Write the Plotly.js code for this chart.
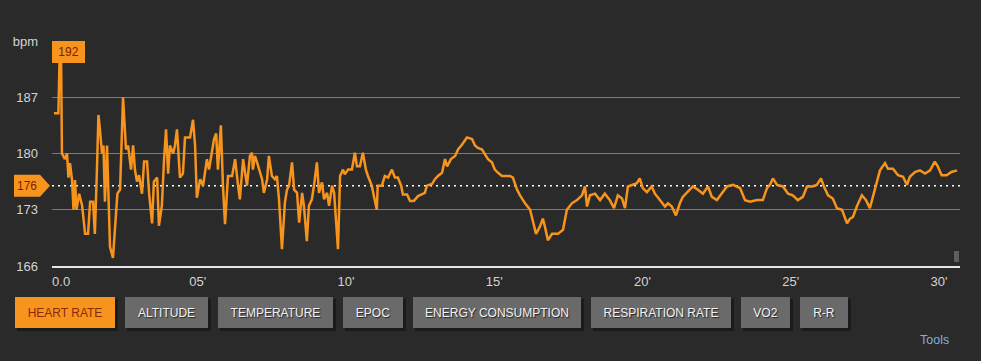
<!DOCTYPE html>
<html><head><meta charset="utf-8">
<script src="https://cdn.plot.ly/plotly-3.0.1.min.js"></script>
<style>html,body{margin:0;padding:0;background:#2a2a2a;overflow:hidden}#chart{width:981px;height:361px}</style>
</head><body><div id="chart"></div>
<script>
// ---- data ----
const minutes = [
 0.15,0.30,0.34,0.39,0.42,0.52,0.59,0.64,0.69,0.76,
 0.81,0.86,0.91,1.00,1.10,1.20,1.30,1.37,1.47,1.53,
 1.60,1.65,1.70,1.77,1.82,1.87,1.94,1.99,2.04,2.14,
 2.24,2.29,2.38,2.48,2.58,2.65,2.75,2.82,2.88,2.95,
 3.02,3.12,3.19,3.29,3.36,3.46,3.52,3.63,3.69,3.79,
 3.86,3.93,4.00,4.06,4.17,4.23,4.30,4.35,4.40,4.50,
 4.57,4.67,4.74,4.84,4.91,4.97,5.08,5.18,5.31,5.38,
 5.48,5.55,5.62,5.68,5.78,5.85,5.92,6.02,6.16,6.26,
 6.36,6.42,6.53,6.59,6.66,6.76,6.83,6.86,6.93,7.00,
 7.07,7.17,7.23,7.34,7.40,7.50,7.60,7.67,7.74,7.84,
 7.94,8.01,8.08,8.18,8.25,8.35,8.42,8.52,8.58,8.68,
 8.75,8.85,8.92,9.02,9.09,9.19,9.26,9.36,9.43,9.53,
 9.60,9.70,9.73,9.80,9.90,9.96,10.07,10.20,10.30,10.37,
 10.47,10.57,10.67,10.74,10.87,10.94,11.04,11.07,11.21,11.31,
 11.42,11.55,11.65,11.75,11.86,11.92,12.06,12.16,12.29,12.43,
 12.56,12.66,12.73,12.90,13.00,13.10,13.24,13.34,13.41,13.54,
 13.68,13.78,13.91,14.01,14.08,14.25,14.35,14.45,14.59,14.69,
 14.79,14.92,15.02,15.13,15.26,15.36,15.53,15.63,15.77,15.87,
 16.04,16.21,16.31,16.41,16.54,16.64,16.71,16.81,16.95,17.15,
 17.32,17.45,17.62,17.79,17.96,18.06,18.13,18.23,18.40,18.57,
 18.73,18.90,19.04,19.17,19.31,19.41,19.51,19.68,19.81,19.91,
 20.01,20.15,20.31,20.42,20.59,20.76,20.86,20.99,21.13,21.26,
 21.36,21.53,21.70,21.87,22.04,22.21,22.34,22.51,22.68,22.85,
 23.05,23.29,23.46,23.63,23.86,24.06,24.20,24.30,24.40,24.54,
 24.74,24.91,25.07,25.24,25.41,25.55,25.72,25.88,26.02,26.12,
 26.26,26.42,26.56,26.73,26.90,27.00,27.10,27.23,27.40,27.54,
 27.67,27.77,27.91,28.01,28.18,28.28,28.45,28.62,28.79,28.92,
 29.02,29.19,29.36,29.53,29.70,29.86,29.96,30.09,30.26,30.42,
 30.61];
const bpm = [
 185,185,192,192,180,179.3,180,177,178.8,176.7,
 173,176.7,173,175,173.5,170,170,174,174,170,
 178,184.8,183,180,181,174,181,175,168.4,167,
 173,175,175.5,187,180.5,181,178,181,178,176.5,
 177.3,175,179,179,175,171.3,176.5,177,171,173.5,
 179,183,177.5,181,180,181,183,179,177,177.5,
 182,182,182,184.2,181,174.5,176.8,176,179.3,178,
 180,181.8,182.5,178,183.5,176,171.2,177.2,177.2,179.3,
 176,174.3,179.3,178,176,179.7,180.1,178,179.7,178.9,
 178,176.8,175.1,176.8,179.7,177.2,176.8,177.2,174.3,168.1,
 173.9,175.5,176,178.9,175.5,175.1,171.4,175.1,173.5,169.1,
 173.5,174.3,176,178.9,175.1,176.4,174.3,175.1,173.5,176,
 175.1,168.9,168.1,177.2,178,177.4,178,178,180.1,178.4,
 178.4,180.1,178,177.2,176,174.7,173,176,176,177.2,
 177,178,177,177,176,174.9,174.9,174.1,174.1,174.7,
 174.9,175.1,176,176.2,176.8,177.2,177.6,179.3,178.4,179.3,
 179.7,180.5,181.1,181.6,182,181.8,181,180.7,180.5,179.9,
 179.3,178.9,178,177.6,177.2,177.2,177.2,177,175.5,174.8,
 173.8,173,171.3,170,170.9,171.9,170.9,169.2,170,170,
 170.5,173,173.8,174.2,174.8,175.9,173.4,174.8,175,174.2,
 175,174.2,173.2,174.8,174.4,173.2,175.9,176.1,176.3,176.9,
 175.7,175.2,175.9,175,174.2,173.4,173.8,173.4,172.3,173.8,
 174.6,175.2,175.9,175.5,175,175.9,174.6,174.2,175,175.9,
 176.1,175.7,174.2,174,174.2,174.2,175.7,176.1,176.9,176.1,
 175.9,175,174.8,174.2,174.6,175.9,175.9,176.1,176.9,175.9,
 174.8,174.4,173.2,173,171.3,171.9,172.1,173.4,174.8,174.2,
 173.2,174.6,176.7,177.9,178.8,178.1,178.1,177.3,177.1,176.1,
 177.1,177.7,177.9,177.5,177.9,179,178.4,177.3,177.3,177.7,
 177.9];
const avgBpm = 176;
const maxBpm = 192;
const yTickVals = [166,173,180,187,194];
const yTickText = ['166','173','180','187','bpm'];
const xTickVals = [0.39,5,10,15,20,25,30];
const xTickText = ['0.0',"05'","10'","15'","20'","25'","30'"];
const tabLabels = ['HEART RATE','ALTITUDE','TEMPERATURE','EPOC','ENERGY CONSUMPTION','RESPIRATION RATE','VO2','R-R'];
const toolsLabel = 'Tools';

// ---- layout geometry (pixels) ----
const W = 981, H = 361;
const plotL = 52, plotR = 960, plotT = 41, plotB = 266;
const pw = plotR - plotL, ph = plotB - plotT;
const tabGeom = [[15,100],[125,83],[218,115],[343,60],[413,168],[591,140],[741,49],[800,48]];
const tabTop = 297, tabH = 31;
const ORANGE = '#f7941d';
const FONT = 'Liberation Sans, Arial, sans-serif';

const px2x = p => (p - plotL) / pw;
const px2y = p => (plotB - p) / ph;

const maxIdx = bpm.indexOf(Math.max(...bpm));

const annotations = [];
// max label
annotations.push({
  x: minutes[maxIdx], y: bpm[maxIdx], xref: 'x', yref: 'y',
  text: String(maxBpm), showarrow: false, xshift: 9, yshift: 5,
  bgcolor: ORANGE, width: 33, height: 22, borderpad: 0, borderwidth: 0,
  font: {family: FONT, size: 12, color: '#7a2205'}
});
// average label text
annotations.push({
  x: 0, y: avgBpm, xref: 'paper', yref: 'y', xanchor: 'center',
  xshift: -25, text: String(avgBpm), showarrow: false,
  font: {family: FONT, size: 12, color: '#7a2205'}
});
// tabs
tabLabels.forEach((lab, i) => {
  const [left, w] = tabGeom[i];
  const active = i === 0;
  annotations.push({
    xref: 'paper', yref: 'paper', x: px2x(left), y: px2y(tabTop),
    xanchor: 'left', yanchor: 'top', width: w, height: tabH,
    borderpad: 0, borderwidth: 0, showarrow: false, valign: 'middle', align: 'center',
    text: lab, bgcolor: active ? ORANGE : '#6a6a6a',
    font: active ? {family: FONT, size: 12, color: '#8a2a08'}
                 : {family: FONT, size: 12, color: '#f2f2f2', shadow: '1px 1px 1px #222'}
  });
});
annotations.push({
  xref: 'paper', yref: 'paper', x: px2x(951), y: px2y(339.5),
  xanchor: 'right', yanchor: 'middle', showarrow: false, text: toolsLabel,
  font: {family: FONT, size: 12.5, color: '#7fb0e0'}
});

const shapes = [];
// tab shadows
tabGeom.forEach(([left, w]) => {
  shapes.push({type: 'rect', xref: 'paper', yref: 'paper', layer: 'below',
    x0: px2x(left + 2), x1: px2x(left + w + 3), y0: px2y(tabTop + tabH + 3), y1: px2y(tabTop + 2),
    fillcolor: 'rgba(0,0,0,0.35)', line: {width: 0}});
});
// average dotted line
shapes.push({type: 'line', xref: 'paper', yref: 'y', x0: 0, x1: 1, y0: avgBpm, y1: avgBpm,
  layer: 'below', line: {color: '#ffffff', width: 1.5, dash: '2px,4px'}});
// average pointer badge
shapes.push({type: 'path', xref: 'paper', yref: 'y', xsizemode: 'pixel', ysizemode: 'pixel',
  xanchor: 0, yanchor: avgBpm,
  path: 'M-38,-11 L-12,-11 L-2,0 L-12,11 L-38,11 Z',
  fillcolor: ORANGE, line: {width: 0}});
// scroll handle
shapes.push({type: 'rect', xref: 'paper', yref: 'paper',
  x0: px2x(954), x1: px2x(959), y0: px2y(262), y1: px2y(251),
  fillcolor: '#5e5e5e', line: {width: 0}});

const trace = {
  x: minutes, y: bpm, type: 'scatter', mode: 'lines',
  line: {color: ORANGE, width: 2.5, shape: 'linear'},
  hoverinfo: 'skip'
};

const layout = {
  width: W, height: H,
  paper_bgcolor: '#2a2a2a', plot_bgcolor: '#2a2a2a',
  margin: {l: plotL, r: W - plotR, t: plotT, b: H - plotB},
  showlegend: false,
  font: {family: FONT, size: 12, color: '#d0d0d0'},
  xaxis: {
    range: [0.084, 30.71], tickvals: xTickVals, ticktext: xTickText,
    showgrid: false, zeroline: false, showline: true, linecolor: '#e6e6e6', linewidth: 2,
    ticks: '', ticklabelstandoff: 2, fixedrange: true,
    tickfont: {family: FONT, size: 13, color: '#d4d4d4'}
  },
  yaxis: {
    range: [166, 194], tickvals: yTickVals, ticktext: yTickText,
    showgrid: true, gridcolor: '#7c7c7c', gridwidth: 1, zeroline: false, showline: false,
    ticks: '', ticklabelstandoff: 13, fixedrange: true,
    tickfont: {family: FONT, size: 13, color: '#d4d4d4'}
  },
  shapes: shapes,
  annotations: annotations
};

Plotly.newPlot('chart', [trace], layout, {displayModeBar: false, staticPlot: true});
</script>
</body></html>
